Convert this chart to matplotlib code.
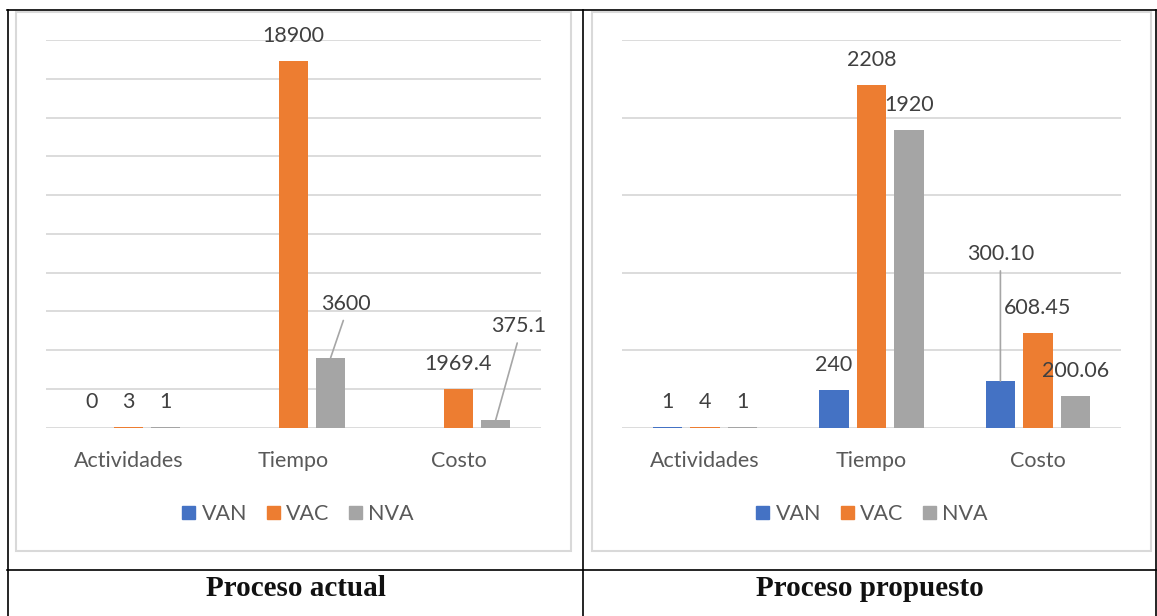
import matplotlib.pyplot as plt
import numpy as np
from matplotlib.patches import Rectangle, Patch

plt.rcParams['font.family'] = ['Lato', 'DejaVu Sans']

categories = ['Actividades', 'Tiempo', 'Costo']
series = ['VAN', 'VAC', 'NVA']
colors = ['#4472C4', '#ED7D31', '#A5A5A5']

# proceso actual
actual_van = [0, np.nan, np.nan]
actual_vac = [3, 18900, 1969.4]
actual_nva = [1, 3600, 375.1]

# proceso propuesto
proposed_van = [1, 240, 300.10]
proposed_vac = [4, 2208, 608.45]
proposed_nva = [1, 1920, 200.06]

W, H = 1157, 616
FS = 15.5
fig = plt.figure(figsize=(W / 100, H / 100), dpi=100)

# background axes in pixel units for the table and chart frames
bg = fig.add_axes([0, 0, 1, 1], zorder=0)
bg.set_xlim(0, W)
bg.set_ylim(H, 0)
bg.axis('off')

for x0, x1 in [(16, 571), (592, 1151)]:
    bg.add_patch(Rectangle((x0, 12), x1 - x0, 539, fill=False, ec='#d9d9d9', lw=1.5))

table_kw = dict(color='black', lw=1.2)
bg.plot([7, 1156], [9.5, 9.5], **table_kw)
bg.plot([7, 1156], [570, 570], **table_kw)
for x in [7.5, 583, 1156]:
    bg.plot([x, x], [9.5, H], **table_kw)

bg.text(296, 588, 'Proceso actual', ha='center', va='center', fontsize=21,
        fontweight='bold', family='Liberation Serif', color='#111111')
bg.text(870, 588, 'Proceso propuesto', ha='center', va='center', fontsize=21,
        fontweight='bold', family='Liberation Serif', color='#111111')


def px_axes(x0, y0, x1, y1):
    return fig.add_axes([x0 / W, 1 - y1 / H, (x1 - x0) / W, (y1 - y0) / H], zorder=1)


def draw_chart(ax, data, ymax, step, fmts, moved):
    ax.patch.set_alpha(0)
    x = np.arange(len(categories))
    pitch, width = 0.225, 0.177
    for j, (name, vals) in enumerate(zip(series, data)):
        pos = x + (j - 1) * pitch
        ax.bar(pos, vals, width, color=colors[j], zorder=2)
        for i, v in enumerate(vals):
            if np.isnan(v):
                continue
            label = fmts[i].format(v)
            if (name, categories[i]) in moved:
                dx, dy = moved[(name, categories[i])]
                ax.annotate(label, (pos[i], v), xytext=(dx, -dy), textcoords='offset pixels',
                            ha='center', va='center', fontsize=FS, color='#404040',
                            arrowprops=dict(arrowstyle='-', color='#a6a6a6', lw=1.2,
                                            relpos=(0.5, 0), shrinkA=3, shrinkB=0))
            else:
                ax.annotate(label, (pos[i], v), xytext=(0, 25), textcoords='offset pixels',
                            ha='center', va='center', fontsize=FS, color='#404040')
    ax.set_xlim(-0.5, len(categories) - 0.5)
    ax.set_ylim(0, ymax)
    ax.set_yticks(np.arange(0, ymax + step, step))
    ax.yaxis.grid(True, color='#d9d9d9', lw=1.3)
    ax.set_axisbelow(True)
    ax.set_yticklabels([])
    ax.tick_params(axis='y', length=0)
    ax.set_xticks(x)
    ax.set_xticklabels(categories, fontsize=FS, color='#595959')
    ax.tick_params(axis='x', length=0, pad=17)
    for s in ax.spines.values():
        s.set_visible(False)


ax1 = px_axes(46, 40, 541, 427.5)
draw_chart(ax1, [actual_van, actual_vac, actual_nva], 20000, 2000,
           ['{:g}', '{:g}', '{:g}'],
           {('NVA', 'Tiempo'): (15, -54), ('NVA', 'Costo'): (23.5, -94)})

ax2 = px_axes(622, 40, 1121, 427.5)
draw_chart(ax2, [proposed_van, proposed_vac, proposed_nva], 2500, 500,
           ['{:g}', '{:g}', '{:.2f}'],
           {('VAN', 'Costo'): (0, -127)})

handles = [Patch(color=c, label=s) for c, s in zip(colors, series)]
for cx in [298, 872]:
    fig.legend(handles=handles, loc='center', bbox_to_anchor=(cx / W, 1 - 514 / H), ncol=3,
               frameon=False, fontsize=FS, labelcolor='#595959', handlelength=0.6,
               handleheight=0.6, handletextpad=0.3, columnspacing=0.9)

fig.savefig('out.png', dpi=100)
